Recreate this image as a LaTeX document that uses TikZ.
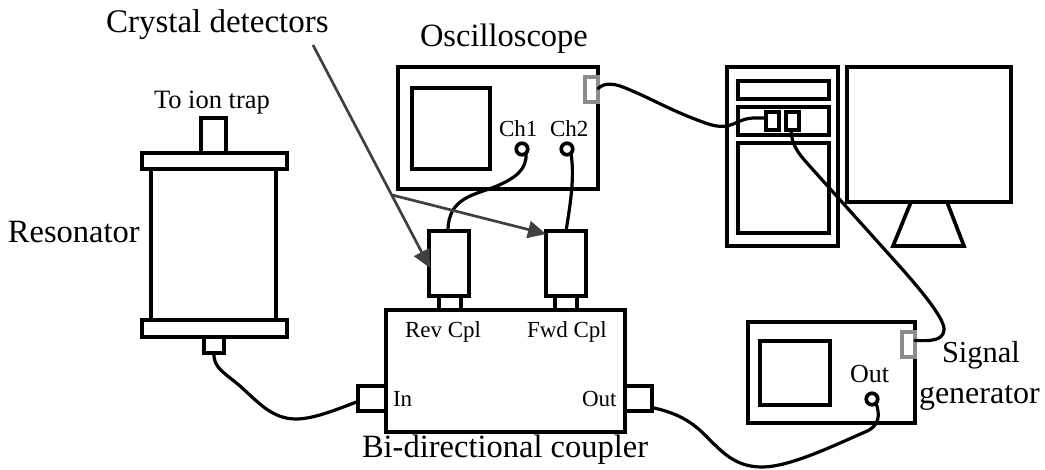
\documentclass[tikz,border=0pt]{standalone}
\usepackage{fontspec}
\setmainfont{Liberation Serif}
\usetikzlibrary{arrows.meta}
\newcommand\bx[6][]{\node[boxs,#1,minimum width={(#5-#3)*1pt},minimum height={(#6-#4)*1pt}] (#2) at ({(#3+#5)/2},{(#4+#6)/2}) {};}
\tikzset{
  boxs/.style={draw=black,line width=3.7pt,fill=white,inner sep=0pt,outer sep=0pt,rectangle},
  grayport/.style={draw=gray!90,fill=none},
  jack/.style={circle,draw=black,line width=3.7pt,fill=white,minimum size=11.5pt,inner sep=0pt,outer sep=0pt},
  cable/.style={draw=black,line width=3.2pt,line cap=round,line join=round},
  pointer/.style={draw=black!75,line width=2.7pt},
  pointerhead/.style={pointer,-{Triangle[length=18pt,width=17pt,fill=black!75]}},
  lab/.style={inner sep=0pt,outer sep=0pt,anchor=base west,font=\fontsize{32.5}{36}\selectfont},
  slab/.style={inner sep=0pt,outer sep=0pt,anchor=base west,font=\fontsize{23}{26}\selectfont},
}
\begin{document}
\begin{tikzpicture}[x=1pt,y=-1pt]
\useasboundingbox (0,0) rectangle (1045,469);
% Resonator
\bx{restop}{201}{118}{226}{153}
\bx{resbody}{151}{169}{276}{320}
\bx{rescapt}{142}{153}{287}{169}
\bx{rescapb}{142}{320}{287}{337}
\bx{resout}{204}{337}{224}{353}
% Oscilloscope
\bx{scope}{398}{67}{598}{189}
\bx{scopescr}{412}{88}{490}{169}
\bx[grayport]{scopeport}{585}{77}{598}{102}
\node[jack] (ch1) at (522,149) {};
\node[jack] (ch2) at (567,149) {};
% Computer
\bx{tower}{727}{67}{838}{246}
\bx{bay1}{738}{81}{829}{99}
\bx{bay2}{738}{107}{829}{135}
\bx{bay3}{738}{143}{829}{233}
\bx{pc1}{766}{112}{779}{130}
\bx{pc2}{786}{112}{799}{130}
\bx{monitor}{847}{67}{1011}{202}
\draw[line width=3.7pt,line join=miter] (911,202) -- (893,246) -- (964,246) -- (947,202);
% Coupler
\bx{det1con}{439}{296}{461}{310}
\bx{det2con}{555}{296}{577}{310}
\bx{det1}{429}{231}{469}{296}
\bx{det2}{546}{231}{586}{296}
\bx{cin}{358}{386}{386}{411}
\bx{cout}{625}{386}{652}{411}
\bx{coupler}{386}{310}{625}{432}
% Signal generator
\bx{sig}{748}{322}{915}{423}
\bx{sigscr}{760}{341}{830}{405}
\bx[grayport]{sigport}{902}{332}{915}{357}
\node[jack] (sigout) at (872,399) {};
% Cables
\draw[cable] (resout.south) .. controls (213,368) and (225,373) .. (240,386) .. controls (258,402) and (272,419) .. (296,419) .. controls (315,419) and (340,408) .. ([yshift=-3pt]cin.west);
\draw[cable] ([yshift=-9pt]cout.east) .. controls (672,412) and (688,418) .. (705,435) .. controls (722,452) and (735,467) .. (762,467) .. controls (790,467) and (835,445) .. (865,432) .. controls (880,426) and (880,415) .. (sigout.south east);
\draw[cable] (ch1.south east) .. controls (527,170) and (515,178) .. (497,186) .. controls (475,195) and (448,197) .. ([xshift=-1pt]det1.north);
\draw[cable] (ch2.south east) .. controls (574,175) and (572,195) .. (566,231);
\draw[cable] ([yshift=1pt]scopeport.east) .. controls (605,82) and (615,83) .. (630,90) .. controls (650,98) and (670,110) .. (700,121) .. controls (718,128) and (725,128) .. (738,122) .. controls (748,117) and (755,118) .. ([yshift=3pt]pc1.west);
\draw[cable] ([xshift=-1.5pt]pc2.south) .. controls (792,148) and (800,155) .. (815,172) -- (903,270) .. controls (925,295) and (945,320) .. (944,330) .. controls (943,341) and (930,341) .. ([yshift=4pt]sigport.east);
% Pointers
\coordinate (cdstart) at (313,45);
\coordinate (cdjoin) at (392,195);
\coordinate (tip1) at (430,268);
\coordinate (tip2) at (546,234);
\draw[pointerhead] (cdstart) -- (tip1);
\draw[pointerhead] (cdjoin) -- (tip2);
% Labels
\node[lab,font=\fontsize{33}{36}\selectfont] (lcrystal) at (106,32) {Crystal detectors};
\node[lab] (losc) at (420,46) {Oscilloscope};
\node[slab,font=\fontsize{26.5}{30}\selectfont] (ltrap) at (154,108) {To ion trap};
\node[lab] (lres) at (8,242) {Resonator};
\node[slab] (lch1) at (499,136) {Ch1};
\node[slab] (lch2) at (550,136) {Ch2};
\node[slab] (lrev) at (405,337) {Rev Cpl};
\node[slab] (lfwd) at (527,337) {Fwd Cpl};
\node[slab] (lin) at (393,406) {In};
\node[slab] (lout) at (582,406) {Out};
\node[lab] (lbi) at (362,457) {Bi-directional coupler};
\node[slab,font=\fontsize{26}{30}\selectfont] (lsout) at (850,382) {Out};
\node[lab,font=\fontsize{30.5}{34}\selectfont] (lsig) at (942,362) {Signal};
\node[lab,font=\fontsize{32}{36}\selectfont] (lgen) at (919,403) {generator};
\end{tikzpicture}
\end{document}
